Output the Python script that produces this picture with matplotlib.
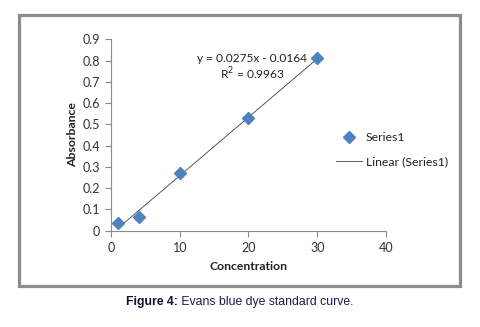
import matplotlib
matplotlib.use("Agg")
import matplotlib.pyplot as plt
from matplotlib.patches import Rectangle

concentration = [1, 4, 10, 20, 30]
absorbance = [0.034, 0.063, 0.272, 0.531, 0.81]
slope = 0.0275
intercept = -0.0164
r_squared = 0.9963
x_ticks = [0, 10, 20, 30, 40]
y_ticks = [0, 0.1, 0.2, 0.3, 0.4, 0.5, 0.6, 0.7, 0.8, 0.9]
y_tick_labels = ["0", "0.1", "0.2", "0.3", "0.4", "0.5", "0.6", "0.7", "0.8", "0.9"]

FONT = ["Lato", "DejaVu Sans"]
plt.rcParams["font.family"] = FONT

W, H = 481, 327
fig = plt.figure(figsize=(W / 100, H / 100), dpi=100)

# outer frame
fig.patches.append(Rectangle((18.5 / W, 1 - 285.5 / H), (460 - 18.5) / W, (285.5 - 14.5) / H,
                             transform=fig.transFigure, fill=False, edgecolor="#8c8c8c",
                             linewidth=2.3, zorder=0))

ax = fig.add_axes([111 / W, 1 - 230.7 / H, 275 / W, 191.4 / H])
ax.set_xlim(0, 40)
ax.set_ylim(0, 0.9)

spine_c = "#8a8a8a"
for s in ["top", "right"]:
    ax.spines[s].set_visible(False)
for s in ["left", "bottom"]:
    ax.spines[s].set_color(spine_c)
    ax.spines[s].set_linewidth(0.8)

ax.set_xticks(x_ticks)
ax.set_yticks(y_ticks)
ax.set_yticklabels(y_tick_labels)
ax.tick_params(axis="both", direction="out", length=4, width=0.8, color=spine_c,
               labelsize=9, labelcolor="#333333")
ax.tick_params(axis="x", pad=4)
ax.tick_params(axis="y", pad=4)

# trendline over data range
x0, x1 = min(concentration), max(concentration)
trend, = ax.plot([x0, x1], [slope * x0 + intercept, slope * x1 + intercept],
                 color="#404040", linewidth=0.6, zorder=2)
pts, = ax.plot(concentration, absorbance, linestyle="none", marker="D", markersize=6.5,
               color="#4F81BD", markeredgecolor="#4F81BD", zorder=3, clip_on=False)

ax.set_xlabel("Concentration", fontsize=8.8, fontweight="bold", color="#222222", labelpad=5)
ax.set_ylabel("Absorbance", fontsize=8.8, fontweight="bold", color="#222222", labelpad=3)

fig.text(252 / W, 1 - 58.7 / H, f"y = {slope}x - {abs(intercept)}", ha="center", va="center",
         fontsize=8.6, color="#222222")
fig.text(252 / W, 1 - 74 / H, f"R$^2$ = {r_squared}", ha="center", va="center",
         fontsize=8.6, color="#222222")

leg = fig.legend([pts, trend], ["Series1", "Linear (Series1)"], loc="upper left",
                 bbox_to_anchor=(336 / W, 1 - 132 / H), frameon=False, fontsize=8.8,
                 handlelength=2.1, handletextpad=0.35, labelspacing=1.05, borderaxespad=0,
                 borderpad=0, labelcolor="#222222")

# caption
cap_font = ["Liberation Sans", "DejaVu Sans"]
cap_bold = fig.text(0, 0, "Figure 4:", fontsize=8.8, fontweight="bold", color="#111133",
                    family=cap_font, va="center")
cap_rest = fig.text(0, 0, " Evans blue dye standard curve.", fontsize=8.8, color="#1a1a55",
                    family=cap_font, va="center")
fig.canvas.draw()
r = fig.canvas.get_renderer()
wb = cap_bold.get_window_extent(r).width
wr = cap_rest.get_window_extent(r).width
cx = 239.5
yc = 1 - 302 / H
start = cx - (wb + wr) / 2
cap_bold.set_position((start / W, yc))
cap_rest.set_position(((start + wb) / W, yc))

fig.savefig("out.png", dpi=100)
